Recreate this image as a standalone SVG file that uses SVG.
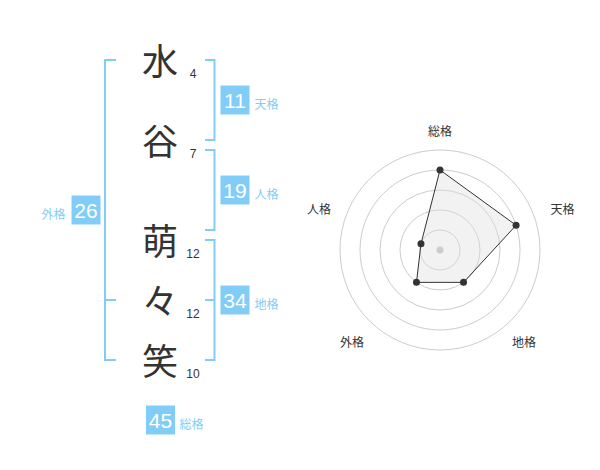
<svg xmlns="http://www.w3.org/2000/svg" width="600" height="470" viewBox="0 0 600 470">
<style>
.kanji{font-family:"Noto Sans CJK JP","Noto Sans CJK SC",sans-serif;font-size:36px;fill:#333;text-anchor:middle}
.num{font-family:"Liberation Sans",Arial,sans-serif;font-size:12px;fill:#333;text-anchor:middle}
.br{fill:none;stroke:#81cdf7;stroke-width:2}
.box{fill:#81cdf7}
.bn{font-family:"Liberation Sans",Arial,sans-serif;font-size:21px;fill:#fff;text-anchor:middle}
.lb{font-family:"Noto Sans CJK JP","Noto Sans CJK SC",sans-serif;font-size:12px;fill:#81cdf7}
.ring{fill:none;stroke:#ccc;stroke-width:1}
.rl{font-family:"Noto Sans CJK JP","Noto Sans CJK SC",sans-serif;font-size:12px;fill:#333;text-anchor:middle}
.dot{fill:#333}
</style>
<rect width="600" height="470" fill="#fff"/>
<g id="chars">
<text class="kanji" x="160" y="75">水</text>
<text class="kanji" x="160" y="155">谷</text>
<text class="kanji" x="160" y="255">萌</text>
<text class="kanji" x="160" y="315">々</text>
<text class="kanji" x="160" y="375">笑</text>
<text class="num" x="193" y="78">4</text>
<text class="num" x="193" y="158">7</text>
<text class="num" x="193" y="258">12</text>
<text class="num" x="193" y="318">12</text>
<text class="num" x="193" y="378">10</text>
</g>
<g id="connectors">
<path class="br" d="M116,60 H105 V360 H116 M105,300 H116"/>
<path class="br" d="M205,60 H214.5 V140 H205"/>
<path class="br" d="M205,150 H214.5 V230 H205"/>
<path class="br" d="M205,240 H214.5 V360 H205 M205,300 H214.5"/>
</g>
<g id="tenkaku">
<rect class="box" x="220.5" y="85.5" width="29" height="29"/>
<text class="bn" x="235" y="108">11</text>
<text class="lb" x="254.5" y="109">天格</text>
</g>
<g id="jinkaku">
<rect class="box" x="220.5" y="175.5" width="29" height="29"/>
<text class="bn" x="235" y="198">19</text>
<text class="lb" x="254.5" y="199">人格</text>
</g>
<g id="chikaku">
<rect class="box" x="220.5" y="285.5" width="29" height="29"/>
<text class="bn" x="235" y="308">34</text>
<text class="lb" x="254.5" y="309">地格</text>
</g>
<g id="gaikaku">
<rect class="box" x="71.5" y="195.5" width="29" height="29"/>
<text class="bn" x="86" y="218">26</text>
<text class="lb" x="65.5" y="218.5" text-anchor="end">外格</text>
</g>
<g id="soukaku">
<rect class="box" x="146" y="405.5" width="29" height="29"/>
<text class="bn" x="160.5" y="428">45</text>
<text class="lb" x="179.5" y="428.5">総格</text>
</g>
<g id="radar">
<circle class="ring" cx="440" cy="250" r="20"/>
<circle class="ring" cx="440" cy="250" r="40"/>
<circle class="ring" cx="440" cy="250" r="60"/>
<circle class="ring" cx="440" cy="250" r="80"/>
<circle class="ring" cx="440" cy="250" r="100"/>
<polygon points="440,170 516.08,225.28 463.51,282.36 416.49,282.36 420.98,243.82" fill="#dedede" fill-opacity="0.4" stroke="#333" stroke-width="1"/>
<circle cx="440" cy="250" r="3.5" fill="#ccc"/>
<circle class="dot" cx="440" cy="170" r="3.5"/>
<circle class="dot" cx="516.08" cy="225.28" r="3.5"/>
<circle class="dot" cx="463.51" cy="282.36" r="3.5"/>
<circle class="dot" cx="416.49" cy="282.36" r="3.5"/>
<circle class="dot" cx="420.98" cy="243.82" r="3.5"/>
<text class="rl" x="440" y="135.5">総格</text>
<text class="rl" x="562.5" y="213.5">天格</text>
<text class="rl" x="524" y="347">地格</text>
<text class="rl" x="352" y="347">外格</text>
<text class="rl" x="319" y="213.5">人格</text>
</g>
</svg>
